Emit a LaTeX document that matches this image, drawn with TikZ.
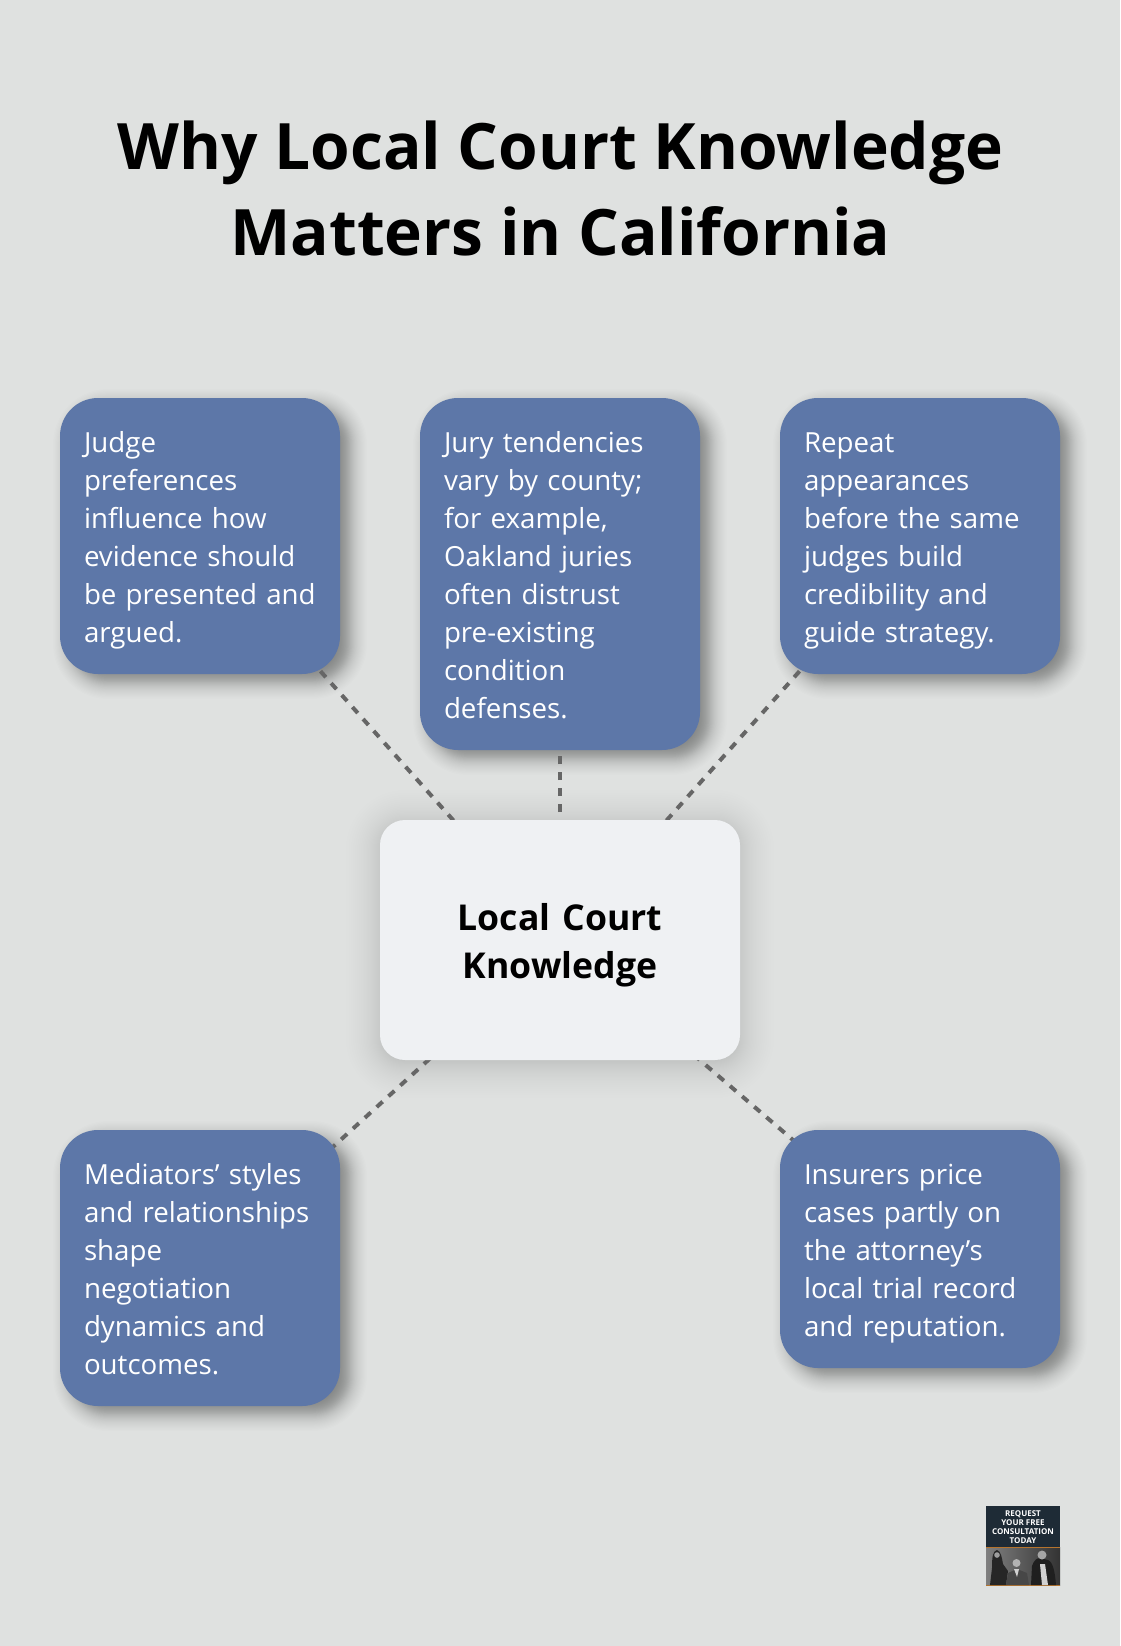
\documentclass[tikz,border=0pt]{standalone}
\usepackage{fontspec}
\setmainfont{Open Sans}
\pgfdeclarelayer{back}
\pgfsetlayers{back,main}
\definecolor{pagebg}{HTML}{DFE1E0}
\definecolor{cardblue}{HTML}{5D77A8}
\definecolor{hubfill}{HTML}{EFF1F3}
\definecolor{linkgray}{HTML}{666666}
\definecolor{logodark}{HTML}{1E2B36}
\definecolor{logoorange}{HTML}{B5742E}
\newcommand\cardstrut{\rule[-7.4pt]{0pt}{38pt}}
\newcommand\hubstrut{\rule[-10pt]{0pt}{48pt}}
\tikzset{
  card/.style={fill=cardblue,text=white,rounded corners=38pt,minimum width=280pt,inner sep=0pt,outer sep=0pt,
    text width=232pt,align=left,font=\fontsize{27.7}{38}\selectfont,
    execute at begin node=\cardstrut,execute at end node=\cardstrut},
  hub/.style={fill=hubfill,text=black,rounded corners=25pt,minimum width=360pt,minimum height=240pt,inner sep=0pt,outer sep=0pt,
    text width=360pt,align=center,font=\fontsize{35.6}{48}\selectfont\bfseries,
    execute at begin node=\hubstrut,execute at end node=\hubstrut},
  headline/.style={align=center,text=black,font=\fontsize{64}{86}\selectfont\bfseries,inner sep=0pt},
  link/.style={draw=linkgray,line width=4pt,dash pattern=on 8pt off 8pt},
  logotext/.style={align=center,text=white,font=\fontsize{8}{9}\selectfont\bfseries,inner sep=0pt}
}
% soft shadow: node, dx, dy, blur, radius, step opacity
\newcommand\softshadow[6]{%
  \foreach \i in {0,...,47}{%
    \pgfmathsetmacro\uu{1-2*\i/47}%
    \pgfmathsetmacro\ee{#4*(0.6*\uu+0.4*\uu*\uu*\uu)}%
    \pgfmathsetmacro\rr{max(#5+\ee,1)}%
    \fill[black,opacity=#6,rounded corners=\rr pt]
      ([shift={(#2-\ee,#3-\ee)}]#1.north west) rectangle ([shift={(#2+\ee,#3+\ee)}]#1.south east);
  }%
}
\begin{document}
\begin{tikzpicture}[x=1pt,y=-1pt]
\useasboundingbox (0,0) rectangle (1120,1646);
\node[headline] (title) at (560.5,188.8) {Why Local Court Knowledge\\Matters in California};
\node[card,minimum height=276pt] (c1) at (200,536) {Judge\\preferences\\influence how\\evidence should\\be~presented~and\\argued.};
\node[card,minimum height=352pt] (c2) at (560,574) {Jury tendencies\\vary by county;\\for example,\\Oakland juries\\often distrust\\pre-existing\\condition\\defenses.};
\node[card,minimum height=276pt] (c3) at (920,536) {Repeat\\appearances\\before the same\\judges build\\credibility and\\guide strategy.};
\node[hub] (hub) at (560,940) {Local Court\\Knowledge};
\node[card,minimum height=276pt] (c4) at (200,1268) {Mediators’ styles\\and relationships\\shape\\negotiation\\dynamics and\\outcomes.};
\node[card,minimum height=238pt] (c5) at (920,1249) {Insurers price\\cases partly on\\the attorney’s\\local trial record\\and reputation.};
\begin{pgfonlayer}{back}
  \fill[pagebg] (0,0) rectangle (1120,1646);
  \softshadow{hub}{0}{4}{34}{25}{0.0045}
  \foreach \n in {c1,c2,c3,c4,c5}{\softshadow{\n}{10}{8}{17}{38}{0.008}}
  \foreach \n in {c1,c2,c3,c4,c5}{\draw[link] (hub.center) -- (\n.center);}
\end{pgfonlayer}
% logo
\node[fill=logodark,minimum width=74pt,minimum height=41pt,inner sep=0pt,outer sep=0pt,anchor=north west] (logotop) at (986,1506) {};
\node[logotext] (logotxt) at ([yshift=-0.5pt]logotop.center) {REQUEST\\YOUR FREE\\CONSULTATION\\TODAY};
\shade[left color=black!50,right color=black!80] (986,1547) rectangle (1060,1585);
\fill[logoorange] (986,1546.5) rectangle (1060,1547.8);
\fill[logoorange] (986,1585) rectangle (1060,1586);
% left figure
\fill[black!85] (990,1585) -- (992,1568) .. controls (992,1556) and (993,1551) .. (997,1550) .. controls (1001,1551) and (1002,1558) .. (1003,1564) -- (1008,1571) -- (1006,1585) -- cycle;
\fill[black!38] (997,1555) circle (2.8);
% middle figure
\fill[black!72] (1006,1585) -- (1008,1573) -- (1017,1569) -- (1027,1573) -- (1029,1585) -- cycle;
\fill[black!30] (1016.5,1563) circle (4);
\fill[black!18] (1014,1569) -- (1019,1569) -- (1017,1577) -- cycle;
% right figure
\fill[black!88] (1031,1585) -- (1032,1566) .. controls (1034,1560) and (1037,1558) .. (1040,1558) -- (1048,1560) .. controls (1053,1562) and (1055,1572) .. (1056,1585) -- cycle;
\fill[black!35] (1042,1555) circle (4.5);
\fill[black!18] (1040,1564) -- (1045,1564) -- (1048,1585) -- (1042,1585) -- cycle;
\end{tikzpicture}
\end{document}
